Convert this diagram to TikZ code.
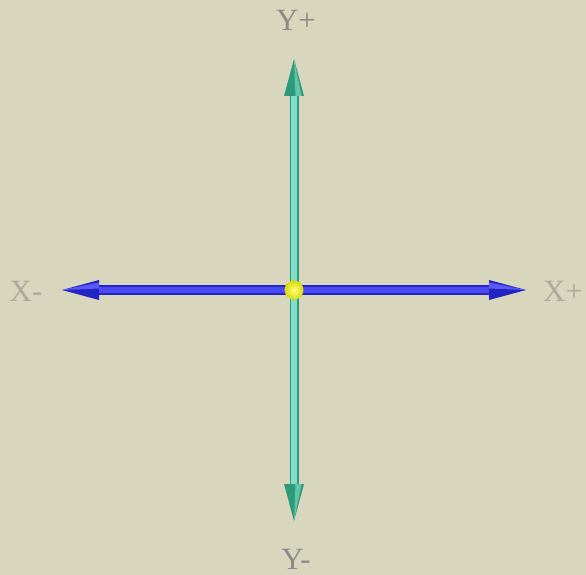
\documentclass[tikz,border=0pt]{standalone}
\usepackage{fontspec}
\setmainfont{Liberation Serif}
\usetikzlibrary{arrows.meta}
\definecolor{bgbeige}{HTML}{D8D6BC}
\definecolor{tealedge}{HTML}{2E9A7C}
\definecolor{tealmid}{HTML}{82DEC8}
\definecolor{tealshine}{HTML}{62C4A6}
\definecolor{blueedge}{HTML}{2424C4}
\definecolor{bluemid}{HTML}{4A4AF2}
\definecolor{blueshine}{HTML}{5A5AF8}
\definecolor{ylabcol}{HTML}{8A8A88}
\definecolor{xlabcol}{HTML}{ABAAA0}
\begin{document}
\begin{tikzpicture}[x=1pt,y=-1pt]
\tikzstyle{every node}+=[inner sep=0pt,font=\fontsize{31}{31}\selectfont]
\tikzstyle{cone}=[{Triangle[length=37pt,width=20pt,line width=0pt]}-{Triangle[length=37pt,width=20pt,line width=0pt]}]
\fill [bgbeige] (0,0) rectangle (586,575);
\coordinate (o) at (294,290);
\coordinate (yp) at (294,59);
\coordinate (ym) at (294,521);
\coordinate (xm) at (62,290);
\coordinate (xp) at (526,290);
\draw (296,20) node [text=ylabcol] (ytop) {Y+};
\draw (296,559) node [text=ylabcol] (ybot) {Y-};
\draw (26,291) node [text=xlabcol] (xleft) {X-};
\draw (563,291) node [text=xlabcol] (xright) {X+};
% vertical axis
\draw [tealedge, line width=9pt, cone] (ym) -- (yp);
\draw [tealmid, line width=6pt, shorten <=37pt, shorten >=37pt] (ym) -- (yp);
\fill [tealshine] (yp) -- ++(1.5,37) -- ++(6,0) -- cycle;
\fill [tealshine] (ym) -- ++(1.5,-37) -- ++(6,0) -- cycle;
% horizontal axis
\draw [blueedge, line width=10pt, cone] (xm) -- (xp);
\draw [bluemid, line width=6pt, shorten <=37pt, shorten >=37pt] (xm) -- (xp);
\fill [blueshine] (xm) -- ++(37,-1.5) -- ++(0,-6) -- cycle;
\fill [blueshine] (xp) -- ++(-37,-1.5) -- ++(0,-6) -- cycle;
% origin
\shade [inner color=yellow!45!white, outer color=yellow!85!black] (o) circle (9.5);
\end{tikzpicture}
\end{document}
